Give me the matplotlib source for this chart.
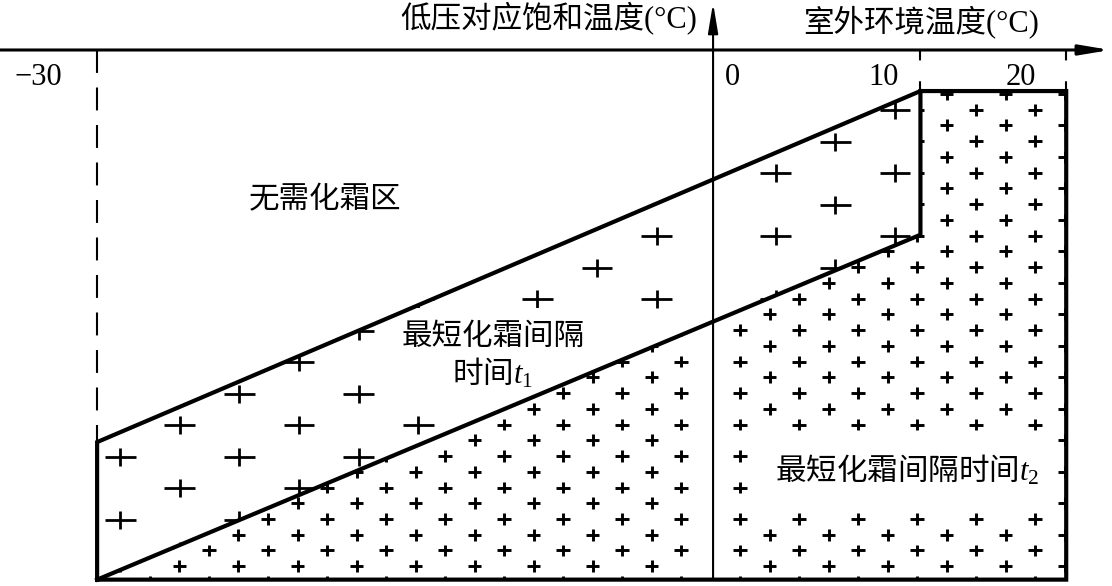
import matplotlib
matplotlib.use("Agg")
import matplotlib.pyplot as plt
import numpy as np
from matplotlib.patches import Polygon, Rectangle
from matplotlib.collections import LineCollection

plt.rcParams['mathtext.fontset'] = 'custom'
plt.rcParams['mathtext.rm'] = 'Liberation Serif'
plt.rcParams['mathtext.it'] = 'Liberation Serif:italic'

CJK = ['Liberation Serif', 'Noto Sans CJK SC']

# schematic boundaries (outdoor temp, saturation temp), degC
x_left, x_step, x_right = -30, 10.1, 17.2
y_bottom = -25.8
y_upper_left = -19.1
y_top = -2.0
y_lower_step = -9.0

tick_values = [-30, 0, 10, 20]
tick_text_x = [-32.85, 0.93, 8.28, 15.0]

ylab = '低压对应饱和温度(°C)'
xlab = '室外环境温度(°C)'
zone_none = '无需化霜区'
zone_t1 = '最短化霜间隔\n时间$t_1$'
zone_t2 = '最短化霜间隔时间$t_2$'

fig = plt.figure(figsize=(11.12, 5.86), dpi=100)
ax = fig.add_axes([0, 0, 1, 1])
ax.set_xlim(-34.73, 19.43)
ax.set_ylim(-26.11, 2.435)
ax.axis('off')

# regions
band = Polygon([(x_left, y_upper_left), (x_step, y_top), (x_step, y_lower_step),
                (x_left, y_bottom)], closed=True, fill=False, edgecolor='none')
lower = Polygon([(x_left, y_bottom), (x_step, y_lower_step), (x_step, y_top),
                 (x_right, y_top), (x_right, y_bottom)], closed=True, fill=False,
                edgecolor='none')
ax.add_patch(band)
ax.add_patch(lower)


def cross_segs(cx, cy, hw, hh):
    segs = []
    for x, y in zip(cx, cy):
        if abs(x) < 0.8:  # keep the vertical axis clear
            continue
        segs.append([(x - hw, y), (x + hw, y)])
        segs.append([(x, y - hh), (x, y + hh)])
    return segs


# big crosses texture (t1 band)
bx, by = [], []
for k in range(-1, 16):
    for j in range(-2, 10):
        bx.append(-28.88 + k * 2.903)
        by.append(-22.89 + j * 3.069 + (k % 2) * 1.534)
lc1 = LineCollection(cross_segs(bx, by, 0.75, 0.44), colors='black',
                     linewidths=2.0, zorder=2)
ax.add_collection(lc1)
lc1.set_clip_path(band)

# small crosses texture (t2 region)
sx, sy = [], []
for j in range(-25, 25):
    for i in range(-20, 10):
        sx.append(1.315 + i * 2.874 + (j % 2) * 1.437)
        sy.append(-16.71 - j * 0.767)
lc2 = LineCollection(cross_segs(sx, sy, 0.33, 0.29), colors='black',
                     linewidths=2.1, zorder=2)
ax.add_collection(lc2)
lc2.set_clip_path(lower)

# white patches behind the zone labels
blank1 = Rectangle((-16.32, -17.44), 11.55, 4.87, facecolor='white',
                   edgecolor='none', zorder=3)
ax.add_patch(blank1)
blank1.set_clip_path(band)
blank2 = Rectangle((2.39, -22.45), 14.15, 3.79, facecolor='white',
                   edgecolor='none', zorder=3)
ax.add_patch(blank2)

# outlines
lw = 3.0
ax.plot([x_left, x_left, x_step, x_right, x_right, x_left],
        [y_bottom, y_upper_left, y_top, y_top, y_bottom, y_bottom],
        color='black', lw=lw, solid_joinstyle='miter', zorder=4)
ax.plot([x_left, x_step, x_step], [y_bottom, y_lower_step, y_top],
        color='black', lw=lw, solid_joinstyle='miter', zorder=4)

# dashed guides
ax.plot([x_left, x_left], [0, y_upper_left], color='black', lw=1.5,
        dashes=(11, 7))
for xv in [x_step, x_right]:
    ax.plot([xv, xv], [0, y_top], color='black', lw=1.5, dashes=(5, 10))

# axes arrows
ax.annotate('', xy=(19.35, 0), xytext=(-34.73, 0),
            arrowprops=dict(arrowstyle='-|>,head_length=1.8,head_width=0.3',
                            lw=2.2, color='black', shrinkA=0, shrinkB=0))
ax.annotate('', xy=(0, 2.29), xytext=(0, y_bottom),
            arrowprops=dict(arrowstyle='-|>,head_length=1.8,head_width=0.3',
                            lw=1.5, color='black', shrinkA=0, shrinkB=0),
            zorder=4)

# tick labels
for v, tx in zip(tick_values, tick_text_x):
    s = '\u221230' if v < 0 else str(v)
    ax.text(tx, -1.36, s, ha='center', va='center', fontsize=22,
            family='Liberation Serif')

# axis titles
ax.text(-0.75, 1.56, ylab, ha='right', va='center', fontsize=22, family=CJK)
ax.text(4.4, 1.36, xlab, ha='left', va='center', fontsize=22, family=CJK)

# zone labels
ax.text(-18.9, -7.3, zone_none, ha='center', va='center', fontsize=22,
        family='Noto Sans CJK SC')
ax.text(-10.72, -14.9, zone_t1, ha='center', va='center', fontsize=22,
        family='Noto Sans CJK SC', linespacing=1.15, zorder=5)
ax.text(9.45, -20.46, zone_t2, ha='center', va='center', fontsize=22,
        family='Noto Sans CJK SC', zorder=5)

fig.savefig('out.png', dpi=100, facecolor='white')
